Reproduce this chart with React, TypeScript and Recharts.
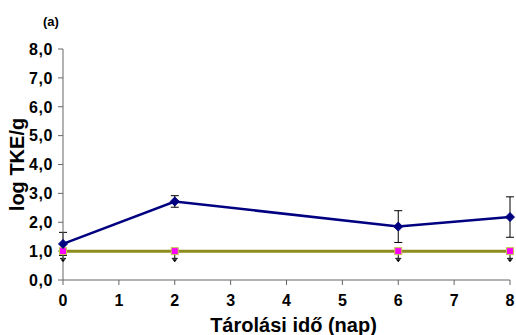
import { LineChart, Line, XAxis, YAxis, ErrorBar } from "recharts"

const days = [0, 2, 6, 8]
const seriesA = [1.25, 2.72, 1.85, 2.18]
const seriesAErr = [0.4, 0.2, 0.55, 0.7]
const seriesB = [1.0, 1.0, 1.0, 1.0]
const seriesBErr = [0.25, 0.25, 0.25, 0.25]
const xTicks = [0, 1, 2, 3, 4, 5, 6, 7, 8]
const yTicks = [0, 1, 2, 3, 4, 5, 6, 7, 8]

const data = days.map((d, i) => ({
    day: d,
    a: seriesA[i],
    aErr: seriesAErr[i],
    b: seriesB[i],
    bErr: [seriesBErr[i], 0],
}))

const font = '"Liberation Sans", Arial, sans-serif'
const labelStyle = { fill: '#000', fontSize: 20, fontWeight: 700, fontFamily: font }
const tickText = { fill: '#000', fontSize: 16, fontWeight: 700, fontFamily: font }

// eslint-disable-next-line @typescript-eslint/no-explicit-any
function XTick({ x, y, payload }: any) {
    return (
        <text x={x} y={y} dy="0.71em" textAnchor="middle" style={tickText}>
            {String(payload.value)}
        </text>
    )
}

// eslint-disable-next-line @typescript-eslint/no-explicit-any
function YTick({ x, y, payload }: any) {
    return (
        <text x={x} y={y} dy="0.36em" textAnchor="end" style={{ ...tickText, letterSpacing: 0.6 }}>
            {Number(payload.value).toFixed(1).replace('.', ',')}
        </text>
    )
}

// eslint-disable-next-line @typescript-eslint/no-explicit-any
function Diamond(props: any) {
    const { cx, cy } = props
    if (cx == null || cy == null) return null
    const r = 4.5
    return <polygon points={`${cx},${cy - r} ${cx + r},${cy} ${cx},${cy + r} ${cx - r},${cy}`} fill="#000080" stroke="#000080" />
}

// eslint-disable-next-line @typescript-eslint/no-explicit-any
function Square(props: any) {
    const { cx, cy } = props
    if (cx == null || cy == null) return null
    return (
        <g>
            <rect x={cx - 3.5} y={cy - 3.5} width={7} height={7} fill="#ff00ff" stroke="#c8c850" strokeWidth={1} />
            <path d={`M${cx - 2.5},${cy + 8} L${cx + 2.5},${cy + 8} L${cx},${cy + 11} Z`} fill="#000" />
        </g>
    )
}

export default function App() {
    return (
        <div style={{ position: 'absolute', left: 0, top: 0, width: 516, height: 335, background: '#fff' }}>
            <div style={{ position: 'absolute', left: 43, top: 14, fontFamily: font, fontWeight: 700, fontSize: 13 }}>(a)</div>
            <LineChart width={516} height={335} data={data} margin={{ top: 49, right: 6, left: 0, bottom: 0 }}>
                <XAxis
                    dataKey="day"
                    type="number"
                    domain={[0, 8]}
                    ticks={xTicks}
                    height={55}
                    stroke="#666"
                    tickSize={5}
                    tickMargin={10}
                    tick={<XTick />}
                    label={{ value: 'Tárolási idő (nap)', position: 'insideBottom', offset: 3, dx: 7, style: labelStyle }}
                />
                <YAxis
                    type="number"
                    domain={[0, 8]}
                    ticks={yTicks}
                    width={63}
                    stroke="#666"
                    tickSize={5}
                    tickMargin={5}
                    tick={<YTick />}
                    label={{ value: 'log TKE/g', angle: -90, position: 'insideLeft', offset: 17, style: { ...labelStyle, textAnchor: 'middle' } }}
                />
                <Line dataKey="b" stroke="#8c8c1e" strokeWidth={3} dot={<Square />} isAnimationActive={false}>
                    <ErrorBar dataKey="bErr" width={3} stroke="#000" strokeWidth={1} direction="y" />
                </Line>
                <Line dataKey="a" stroke="#000080" strokeWidth={2.5} dot={<Diamond />} isAnimationActive={false}>
                    <ErrorBar dataKey="aErr" width={4} stroke="#000" strokeWidth={1} direction="y" />
                </Line>
            </LineChart>
        </div>
    )
}
